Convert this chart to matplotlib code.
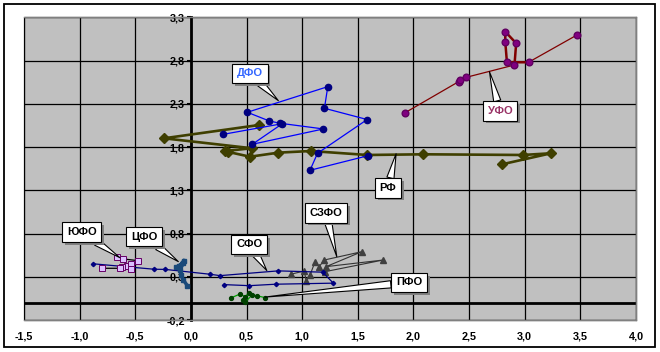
import matplotlib
matplotlib.use("Agg")
import matplotlib.pyplot as plt
from matplotlib.patches import Rectangle
import matplotlib.patheffects as pe

plt.rcParams['font.family'] = ['Liberation Sans', 'DejaVu Sans']

# ---------------- data ----------------
rf_x = [0.615, -0.242, 0.547, 0.307, 0.330, 0.531, 0.786, 1.077, 1.586, 2.090, 2.984, 3.238, 2.795]
rf_y = [2.055, 1.901, 1.786, 1.754, 1.745, 1.688, 1.735, 1.754, 1.708, 1.716, 1.708, 1.728, 1.600]

dfo_x = [0.291, 0.822, 0.552, 1.191, 0.800, 0.705, 0.507, 1.230, 1.200, 1.584, 1.138, 1.070, 1.592]
dfo_y = [1.947, 2.070, 1.832, 2.009, 2.075, 2.101, 2.202, 2.498, 2.248, 2.118, 1.728, 1.531, 1.700]

ufo_x = [1.925, 2.405, 2.414, 2.474, 2.908, 2.923, 2.825, 2.825, 2.840, 3.034, 3.469]
ufo_y = [2.197, 2.555, 2.575, 2.606, 2.749, 3.000, 3.134, 3.018, 2.780, 2.780, 3.095]

szfo_x = [0.897, 1.020, 1.035, 1.071, 1.116, 1.152, 1.200, 1.536, 1.215, 1.730, 1.206]
szfo_y = [0.329, 0.367, 0.252, 0.321, 0.475, 0.417, 0.494, 0.590, 0.417, 0.494, 0.359]

sfo_x = [-0.880, -0.330, -0.230, 0.172, 0.262, 0.785, 1.184, 1.280, 0.764, 0.525, 0.300]
sfo_y = [0.450, 0.387, 0.385, 0.329, 0.313, 0.368, 0.353, 0.226, 0.214, 0.197, 0.209]

yufo_x = [-0.667, -0.608, -0.473, -0.577, -0.539, -0.622, -0.539, -0.638, -0.802]
yufo_y = [0.525, 0.506, 0.486, 0.428, 0.448, 0.410, 0.387, 0.398, 0.398]

cfo_x = [-0.062, -0.104, -0.134, -0.068, -0.098, -0.089, -0.068, -0.032]
cfo_y = [0.486, 0.425, 0.410, 0.456, 0.378, 0.321, 0.263, 0.197]

pfo_x = [0.360, 0.440, 0.487, 0.525, 0.472, 0.487, 0.550, 0.590, 0.666]
pfo_y = [0.055, 0.100, 0.070, 0.115, 0.035, 0.005, 0.090, 0.081, 0.059]

x_ticks = [-1.5, -1.0, -0.5, 0.0, 0.5, 1.0, 1.5, 2.0, 2.5, 3.0, 3.5, 4.0]
x_tick_labels = ['-1,5', '-1,0', '-0,5', '0,0', '0,5', '1,0', '1,5', '2,0', '2,5', '3,0', '3,5', '4,0']
y_ticks = [-0.2, 0.3, 0.8, 1.3, 1.8, 2.3, 2.8, 3.3]
y_tick_labels = ['-0,2', '0,3', '0,8', '1,3', '1,8', '2,3', '2,8', '3,3']

# callouts: text, label position, target point, text colour
callouts = [
    ('ДФО', (0.529, 2.653), (0.786, 2.336), '#3366ff'),
    ('УФО', (2.777, 2.217), (2.683, 2.671), '#993366'),
    ('РФ', (1.772, 1.327), (1.844, 1.722), 'black'),
    ('СЗФО', (1.213, 1.038), (1.311, 0.532), 'black'),
    ('СФО', (0.524, 0.673), (0.682, 0.372), 'black'),
    ('ПФО', (1.960, 0.234), (0.666, 0.065), 'black'),
    ('ЮФО', (-0.982, 0.816), (-0.638, 0.520), 'black'),
    ('ЦФО', (-0.420, 0.764), (-0.113, 0.475), 'black'),
]

# ---------------- figure ----------------
fig = plt.figure(figsize=(6.6, 3.52), dpi=100)
fig.patch.set_facecolor('white')
fig.patches.append(Rectangle((3.5 / 660, 1 - 347 / 352), 651 / 660, 343.5 / 352,
                             transform=fig.transFigure, fill=False, ec='black', lw=1.3))

ax = fig.add_axes([24 / 660, 1 - 320 / 352, 612 / 660, 302.7 / 352])
ax.set_facecolor('#c0c0c0')
ax.set_xlim(-1.5, 4.0)
ax.set_ylim(-0.2, 3.3)

ax.set_xticks(x_ticks)
ax.set_xticklabels(x_tick_labels)
ax.set_yticks(y_ticks)
ax.set_yticklabels(y_tick_labels)
ax.grid(True, color='black', lw=0.9, zorder=0)
ax.set_axisbelow(True)

for s in ['top', 'right', 'bottom']:
    ax.spines[s].set_color('#808080')
    ax.spines[s].set_linewidth(1)
ax.spines['left'].set_position(('data', 0))
ax.spines['left'].set_color('black')
ax.spines['left'].set_linewidth(2)
ax.add_patch(Rectangle((0, 0), 1, 1, transform=ax.transAxes, fill=False,
                       ec='#808080', lw=1, clip_on=False, zorder=0.5))
ax.axhline(0, color='black', lw=2, zorder=1)

ax.tick_params(axis='x', length=0, pad=8, labelsize=7.8)
ax.tick_params(axis='y', length=3, width=1.5, direction='out', pad=1.5, labelsize=7.8)
for lab in ax.get_xticklabels() + ax.get_yticklabels():
    lab.set_fontweight('bold')

# ---------------- series ----------------
ax.plot(rf_x, rf_y, color='#3f3f00', lw=1.9, marker='D', ms=5, mfc='#3f3f00', mec='#3f3f00', zorder=3)
ax.plot(dfo_x, dfo_y, color='#0000ff', lw=0.9, marker='o', ms=4.5, mfc='#000080', mec='#000080', zorder=4)
ax.plot(ufo_x[0:5], ufo_y[0:5], color='#800000', lw=0.9, zorder=3)
ax.plot(ufo_x[4:10], ufo_y[4:10], color='#800000', lw=1.8, zorder=3)
ax.plot(ufo_x[9:], ufo_y[9:], color='#800000', lw=0.9, zorder=3)
ax.plot(ufo_x, ufo_y, ls='none', marker='o', ms=4.8, mfc='#800080', mec='#600060', zorder=4)
ax.plot(szfo_x, szfo_y, color='#333333', lw=0.8, marker='^', ms=5, mfc='#404040', mec='#404040', zorder=3)
ax.plot(sfo_x, sfo_y, color='#000080', lw=0.9, marker='D', ms=2.2, mfc='#000080', mec='#000080', zorder=3)
ax.plot(yufo_x, yufo_y, color='black', lw=0.9, marker='s', ms=3.8, mfc='#dcc0ff', mec='#660066', mew=0.7, zorder=3)
ax.plot(cfo_x, cfo_y, color='#1a4a7a', lw=2.5, marker='s', ms=3.5, mfc='#1a4a7a', mec='#1a4a7a', zorder=4)
ax.plot(pfo_x, pfo_y, color='#00a000', lw=0.9, marker='o', ms=2.8, mfc='#004000', mec='#004000', zorder=3)

# ---------------- callouts ----------------
for text, pos, target, col in callouts:
    ann = ax.annotate(text, xy=target, xytext=pos, ha='center', va='center',
                      fontsize=8, fontweight='bold', color=col, zorder=10,
                      bbox=dict(boxstyle='square,pad=0.42', fc='white', ec='black', lw=0.8),
                      arrowprops=dict(arrowstyle='wedge,tail_width=0.65,shrink_factor=0.5',
                                      fc='white', ec='black', lw=0.8, shrinkA=0, shrinkB=0))
    ann.get_bbox_patch().set_path_effects([
        pe.SimplePatchShadow(offset=(2, -2), shadow_rgbFace='#808080', alpha=1.0),
        pe.Normal()])

fig.savefig('out.png', dpi=100)
